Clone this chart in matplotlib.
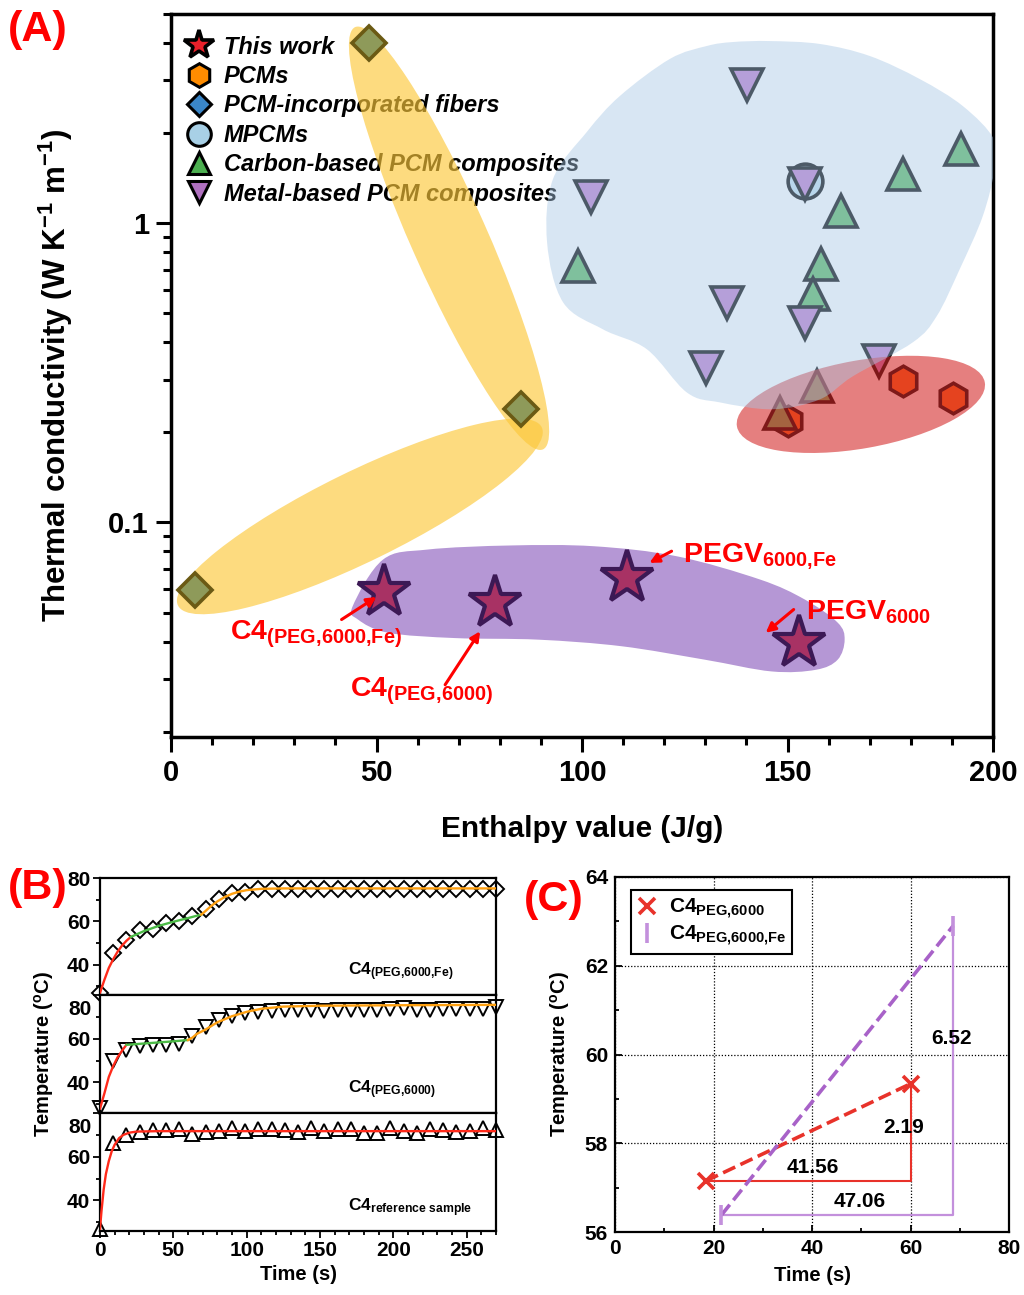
"""
plot.py - Thermal conductivity vs. enthalpy map (A), heating curves (B)
and phase-change slope comparison (C).
"""
import numpy as np
import matplotlib
matplotlib.use('Agg')
import matplotlib.pyplot as plt
from matplotlib import transforms as mtransforms
from matplotlib.lines import Line2D
from matplotlib.patches import Ellipse, PathPatch
from matplotlib.path import Path
from matplotlib.font_manager import FontProperties
from matplotlib.ticker import MultipleLocator, LogLocator, NullFormatter

W, H = 1024, 1295

plt.rcParams.update({
    'font.family': ['Liberation Sans', 'DejaVu Sans'],
    'font.weight': 'bold',
    'axes.labelweight': 'bold',
    'mathtext.fontset': 'custom',
    'mathtext.rm': 'Liberation Sans:bold',
    'mathtext.bf': 'Liberation Sans:bold',
    'mathtext.it': 'Liberation Sans:bold:italic',
    'mathtext.sf': 'Liberation Sans:bold',
    'mathtext.default': 'rm',
})

# ── Panel A data: enthalpy [J/g] vs thermal conductivity [W/(K m)] ──────────
work_H = [51.8, 78.9, 110.9, 152.8]
work_k = [0.0586, 0.0539, 0.0653, 0.0397]
pcm_H = [150.2, 178.1, 190.3]
pcm_k = [0.218, 0.297, 0.261]
fiber_H = [5.8, 48.2, 85.1]
fiber_k = [0.0594, 4.00, 0.239]
mpcm_H = [154.2]
mpcm_k = [1.385]
carbon_H = [99.1, 158.1, 156.2, 163.1, 178.1, 192.2, 157.1, 148.1]
carbon_k = [0.720, 0.729, 0.579, 1.099, 1.458, 1.768, 0.286, 0.233]
metal_H = [140.2, 102.1, 135.2, 154.2, 130.1, 172.2, 154.2]
metal_k = [2.90, 1.228, 0.540, 0.463, 0.327, 0.346, 1.35]

# highlight regions (enthalpy, conductivity)
yellow_tall = [(44.8, 4.52), (90.5, 0.1755)]
yellow_low = [(1.7, 0.0528), (90.2, 0.208)]
red_band = [(137.7, 0.2094), (198.0, 0.294)]
blue_H = [136.7, 145.7, 157.9, 170.0, 182.2, 192.7, 200.2, 200.4, 197.5, 191.9,
          186.3, 180.5, 165.9, 157.9, 146.4, 133.5, 125.5, 115.8, 105.1, 95.4,
          91.5, 92.9, 101.2, 109.2, 121.4, 130.4]
blue_k = [4.03, 4.06, 3.97, 3.62, 3.03, 2.46, 1.91, 1.52, 1.055, 0.702,
          0.489, 0.400, 0.308, 0.258, 0.239, 0.252, 0.272, 0.379, 0.442, 0.544,
          0.864, 1.40, 2.02, 2.66, 3.54, 3.91]
purple_H = [44.2, 51.6, 62.4, 82.6, 102.9, 123.1, 143.3, 154.2, 162.2, 163.9,
            162.2, 156.9, 146.1, 129.9, 109.6, 89.4, 69.1, 52.9, 45.5]
purple_k = [0.0525, 0.0752, 0.0812, 0.0838, 0.0833, 0.0771, 0.0645, 0.0553,
            0.0463, 0.0406, 0.0348, 0.0322, 0.0318, 0.0348, 0.0386, 0.0406,
            0.0411, 0.0428, 0.0474]

# ── Panel B data: temperature [°C] vs time [s] ──────────────────────────────
time_s = [0, 9, 18, 27, 36, 45, 54, 63, 72, 81, 90, 99, 108, 117, 126, 135,
          144, 153, 162, 171, 180, 189, 198, 207, 216, 225, 234, 243, 252,
          261, 270]
T_fe = [26.8, 45.4, 51.2, 55.8, 56.3, 59.2, 60.0, 62.5, 65.9, 70.1, 72.9,
        73.6, 74.7, 75.0, 75.1, 75.1, 75.1, 75.1, 75.1, 75.1, 75.1, 75.1,
        75.1, 75.1, 75.1, 75.1, 75.1, 75.1, 75.1, 75.1, 75.1]
T_peg = [28.1, 49.9, 54.8, 56.6, 57.0, 57.3, 57.8, 61.2, 65.5, 68.4, 70.4,
         71.6, 72.3, 72.6, 73.0, 73.0, 73.0, 72.8, 73.0, 73.0, 73.3, 73.3,
         73.8, 74.0, 73.3, 73.3, 73.5, 73.5, 73.5, 73.8, 74.5]
T_ref = [26.8, 66.3, 69.9, 71.2, 72.3, 72.3, 72.6, 70.2, 71.5, 71.8, 73.1,
         71.8, 72.6, 72.6, 72.0, 71.2, 73.1, 71.8, 72.6, 72.6, 71.0, 71.0,
         73.1, 71.8, 71.0, 72.6, 72.0, 71.2, 71.9, 73.1, 72.3]

# fitted segments: heating (red), melting (green), post-melting (orange)
fe_heat_t = [0, 3, 6, 9, 12, 15, 18, 21]
fe_heat_T = [27.0, 33.0, 38.5, 42.5, 46.0, 48.8, 51.0, 52.8]
fe_melt_t = [21, 30, 40, 50, 60, 69]
fe_melt_T = [52.8, 55.5, 57.9, 59.8, 61.5, 63.1]
fe_post_t = [69, 72, 76, 80, 85, 90, 95, 100, 110, 125, 270]
fe_post_T = [63.1, 64.8, 67.2, 69.2, 71.2, 72.7, 73.7, 74.4, 75.0, 75.2, 75.2]

peg_heat_t = [0, 3, 6, 9, 12, 15, 18]
peg_heat_T = [28.0, 35.0, 42.5, 47.5, 51.5, 54.5, 57.2]
peg_melt_t = [18, 30, 40, 50, 60]
peg_melt_T = [57.2, 57.8, 58.3, 58.8, 59.4]
peg_post_t = [60, 63, 66, 72, 80, 90, 100, 110, 125, 150, 200, 270]
peg_post_T = [59.4, 60.5, 62.2, 64.2, 67.5, 70.3, 72.3, 73.7, 74.7, 75.1,
              75.3, 75.5]

ref_heat_t = [0, 1, 2.5, 4, 6, 8, 10, 13, 16, 20, 25, 40, 270]
ref_heat_T = [27.0, 35.0, 45.0, 52.0, 58.0, 62.5, 65.5, 68.5, 70.0, 71.0,
              71.5, 71.7, 71.7]

# ── Panel C data: melting onset / end points ───────────────────────────────
peg_pts_t = [18.44, 60.00]
peg_pts_T = [57.15, 59.34]
fe_pts_t = [21.60, 68.66]
fe_pts_T = [56.38, 62.90]

RED = '#ff0000'


def px_axes(fig, left, top, right, bottom):
    """Axes placed by pixel edges of the 1024x1295 canvas."""
    return fig.add_axes([left / W, 1 - bottom / H,
                         (right - left) / W, (bottom - top) / H])


def capsule(ax, p0, p1, width, **kw):
    """Ellipse whose long axis runs between two data points."""
    a, b = ax.transData.transform([p0, p1])
    d = b - a
    e = Ellipse((a + b) / 2, np.hypot(*d), width,
                angle=np.degrees(np.arctan2(d[1], d[0])),
                transform=mtransforms.IdentityTransform(), lw=0, **kw)
    ax.add_patch(e)


def smooth_region(ax, xs, ys, **kw):
    """Closed smooth outline (Catmull-Rom -> cubic Bezier) through data points."""
    pts = ax.transData.transform(np.column_stack([xs, ys]))
    n = len(pts)
    verts = [pts[0]]
    codes = [Path.MOVETO]
    for i in range(n):
        p0, p1, p2, p3 = pts[i - 1], pts[i], pts[(i + 1) % n], pts[(i + 2) % n]
        verts += [p1 + (p2 - p0) / 6.0, p2 - (p3 - p1) / 6.0, p2]
        codes += [Path.CURVE4] * 3
    verts.append(pts[0])
    codes.append(Path.CLOSEPOLY)
    ax.add_patch(PathPatch(Path(verts, codes), lw=0,
                           transform=mtransforms.IdentityTransform(), **kw))


fig = plt.figure(figsize=(W / 100, H / 100), dpi=100)

# ── (A) ─────────────────────────────────────────────────────────────────────
axA = px_axes(fig, 171, 14, 993, 737)
axA.set_yscale('log')
axA.set_xlim(0, 200)
axA.set_ylim(0.0192, 5.0)

capsule(axA, *yellow_tall, 76, fc='#fcc83a', alpha=0.65, zorder=2)
capsule(axA, *yellow_low, 90, fc='#fcc83a', alpha=0.65, zorder=2)
smooth_region(axA, purple_H, purple_k, fc='#8e5fbf', alpha=0.65, zorder=2)

axA.plot(fiber_H, fiber_k, 'D', ms=17, mfc='#8e9a5a', mec='#6b5a14',
         mew=2.6, zorder=3)
axA.plot(pcm_H, pcm_k, 'h', ms=22, mfc='#ff6a10', mec='black',
         mew=2.6, zorder=3)
axA.plot(mpcm_H, mpcm_k, 'o', ms=25, mfc='#c6e3f0', mec='black',
         mew=2.6, zorder=3)
axA.plot(carbon_H, carbon_k, '^', ms=23, mfc='#5dbb63', mec='black',
         mew=2.6, zorder=3)
axA.plot(metal_H, metal_k, 'v', ms=23, mfc='#c07fd0', mec='black',
         mew=2.6, zorder=3)
axA.plot(work_H, work_k, '*', ms=40, mfc='#a83264', mec='#3c1955',
         mew=3.0, zorder=3)

# red band and blue cloud are laid over the markers they group
capsule(axA, *red_band, 88, fc='#d42a2a', alpha=0.6, zorder=3.5)
smooth_region(axA, blue_H, blue_k, fc='#a9c8e6', alpha=0.45, zorder=4)

handles = [
    Line2D([], [], ls='none', marker='*', ms=22, mfc='#e8202a', mec='black', mew=2.6),
    Line2D([], [], ls='none', marker='h', ms=17, mfc='#ff8c00', mec='black', mew=2.2),
    Line2D([], [], ls='none', marker='D', ms=12, mfc='#3a86c8', mec='black', mew=2.2),
    Line2D([], [], ls='none', marker='o', ms=17, mfc='#a8d0e6', mec='black', mew=2.2),
    Line2D([], [], ls='none', marker='^', ms=16, mfc='#4caf50', mec='black', mew=2.2),
    Line2D([], [], ls='none', marker='v', ms=16, mfc='#b070c0', mec='black', mew=2.2),
]
labels = ['This work', 'PCMs', 'PCM-incorporated fibers', 'MPCMs',
          'Carbon-based PCM composites', 'Metal-based PCM composites']
leg = axA.legend(handles, labels, loc='upper left', bbox_to_anchor=(0.018, 0.97),
                 frameon=False, borderpad=0, borderaxespad=0, handlelength=1.1,
                 handletextpad=0.5, labelspacing=0.27,
                 prop=FontProperties(family='Liberation Sans', weight='bold',
                                     style='italic', size=17))
leg.set_zorder(1)

# labels and arrows for this work
ann_kw = dict(color=RED, fontsize=20.5, fontweight='bold', ha='left',
              va='baseline', zorder=6)
axA.text(14.3, 0.0406, r'C4$_{(PEG{,}6000{,}Fe)}$', **ann_kw)
axA.text(43.5, 0.0262, r'C4$_{(PEG{,}6000)}$', **ann_kw)
axA.text(124.5, 0.0741, r'PEGV$_{6000{,}Fe}$', **ann_kw)
axA.text(154.5, 0.0474, r'PEGV$_{6000}$', **ann_kw)
arrows = [((41.5, 0.0474), (50.0, 0.0564)),
          ((66.7, 0.0287), (75.2, 0.0433)),
          ((121.8, 0.0802), (116.4, 0.0733)),
          ((151.5, 0.0512), (144.7, 0.0428))]
for tail, head in arrows:
    axA.annotate('', xy=head, xytext=tail, zorder=6,
                 arrowprops=dict(arrowstyle='-|>', color=RED, lw=2.2,
                                 mutation_scale=14, shrinkA=0, shrinkB=0))

axA.set_yticks([0.1, 1])
axA.set_yticklabels(['0.1', '1'])
axA.yaxis.set_minor_locator(LogLocator(base=10, subs=np.arange(2, 10)))
axA.yaxis.set_minor_formatter(NullFormatter())
axA.xaxis.set_major_locator(MultipleLocator(50))
axA.xaxis.set_minor_locator(MultipleLocator(10))
axA.tick_params(which='major', direction='out', length=11, width=2.2,
                labelsize=21, pad=5, top=False, right=False)
axA.tick_params(which='minor', direction='out', length=6, width=2.2,
                top=False, right=False)
for s in axA.spines.values():
    s.set_linewidth(2.5)
axA.set_xlabel('Enthalpy value (J/g)', fontsize=21.5, labelpad=20)
axA.set_ylabel(r'Thermal conductivity (W K$^{-1}$ m$^{-1}$)', fontsize=22.5,
               labelpad=24)

# ── (B) ─────────────────────────────────────────────────────────────────────
rows = [
    (878, 995, T_fe, 'D', r'C4$_{(PEG{,}6000{,}Fe)}$',
     [(fe_heat_t, fe_heat_T, '#ff2a1a'), (fe_melt_t, fe_melt_T, '#4cbb47'),
      (fe_post_t, fe_post_T, '#ffa010')]),
    (995, 1113, T_peg, 'v', r'C4$_{(PEG{,}6000)}$',
     [(peg_heat_t, peg_heat_T, '#ff2a1a'), (peg_melt_t, peg_melt_T, '#4cbb47'),
      (peg_post_t, peg_post_T, '#ffa010')]),
    (1113, 1231, T_ref, '^', r'C4$_{reference\ sample}$',
     [(ref_heat_t, ref_heat_T, '#ff2a1a')]),
]
axesB = []
for i, (top, bottom, temps, mk, name, fits) in enumerate(rows):
    ax = px_axes(fig, 100, top, 496, bottom)
    axesB.append(ax)
    ax.plot(time_s, temps, mk, ms=8.5 if mk == 'D' else 9.5, mfc='none',
            mec='black', mew=1.4, clip_on=False, zorder=3)
    for ft, fT, c in fits:
        ax.plot(ft, fT, '-', color=c, lw=1.7, zorder=4)
    ax.set_xlim(0, 270)
    ax.set_ylim(26, 80)
    ax.set_yticks([40, 60, 80])
    ax.yaxis.set_minor_locator(MultipleLocator(10))
    ax.xaxis.set_major_locator(MultipleLocator(50))
    ax.xaxis.set_minor_locator(MultipleLocator(10))
    ax.tick_params(which='major', direction='out', length=5, width=1.3,
                   labelsize=15, pad=2)
    ax.tick_params(which='minor', direction='out', length=3, width=1.3)
    for s in ax.spines.values():
        s.set_linewidth(1.6)
    if i > 0:
        ax.set_yticklabels(['40', '60', ''])
        ax.text(-0.022, 0.955, '80', transform=ax.transAxes, ha='right',
                va='top', fontsize=15)
    if i < 2:
        ax.tick_params(axis='x', which='both', labelbottom=False)
    ax.text(0.625, 0.17, name, transform=ax.transAxes, fontsize=12.5,
            ha='left', va='baseline')

axesB[1].set_ylabel(r'Temperature ($^{o}$C)', fontsize=14.5, labelpad=8)
axesB[2].set_xlabel('Time (s)', fontsize=14.5, labelpad=4)

# ── (C) ─────────────────────────────────────────────────────────────────────
axC = px_axes(fig, 615, 877, 1009, 1232)
c_red, c_pur, c_pur_l = '#e8322a', '#a862c8', '#c390dc'

axC.plot(peg_pts_t, peg_pts_T, '--', color=c_red, lw=2.6, zorder=3)
axC.plot(fe_pts_t, fe_pts_T, '--', color=c_pur, lw=2.6, zorder=3)
axC.plot([peg_pts_t[0], peg_pts_t[1], peg_pts_t[1]],
         [peg_pts_T[0], peg_pts_T[0], peg_pts_T[1]], '-', color=c_red,
         lw=1.5, zorder=2)
axC.plot([fe_pts_t[0], fe_pts_t[1], fe_pts_t[1]],
         [fe_pts_T[0], fe_pts_T[0], fe_pts_T[1]], '-', color=c_pur_l,
         lw=1.6, zorder=2)
axC.plot(peg_pts_t, peg_pts_T, 'x', ms=11, mew=2.6, color=c_red, zorder=4,
         label=r'C4$_{PEG{,}6000}$')
axC.plot(fe_pts_t, fe_pts_T, '|', ms=14, mew=2.6, color=c_pur_l, zorder=4,
         label=r'C4$_{PEG{,}6000{,}Fe}$')

dt_peg = peg_pts_t[1] - peg_pts_t[0]
dT_peg = peg_pts_T[1] - peg_pts_T[0]
dt_fe = fe_pts_t[1] - fe_pts_t[0]
dT_fe = fe_pts_T[1] - fe_pts_T[0]
lab_kw = dict(fontsize=15, ha='center', va='center', zorder=5)
axC.text(peg_pts_t[0] + dt_peg / 2 + 1.0, peg_pts_T[0] + 0.3,
         '{:.2f}'.format(dt_peg), **lab_kw)
axC.text(peg_pts_t[1] - 1.4, peg_pts_T[0] + dT_peg / 2 + 0.1,
         '{:.2f}'.format(dT_peg), **lab_kw)
axC.text(fe_pts_t[0] + dt_fe / 2 + 4.6, fe_pts_T[0] + 0.31,
         '{:.2f}'.format(dt_fe), **lab_kw)
axC.text(fe_pts_t[1] - 0.3, fe_pts_T[0] + dT_fe / 2 + 0.72,
         '{:.2f}'.format(dT_fe), **lab_kw)

axC.set_xlim(0, 80)
axC.set_ylim(56, 64)
axC.xaxis.set_major_locator(MultipleLocator(20))
axC.xaxis.set_minor_locator(MultipleLocator(10))
axC.yaxis.set_major_locator(MultipleLocator(2))
axC.yaxis.set_minor_locator(MultipleLocator(1))
axC.grid(True, which='major', ls=(0, (1, 1.5)), color='black', lw=0.9)
axC.tick_params(which='major', direction='in', length=5, width=1.3,
                labelsize=15, pad=5)
axC.tick_params(which='minor', direction='in', length=3, width=1.3)
for s in axC.spines.values():
    s.set_linewidth(1.6)
axC.set_xlabel('Time (s)', fontsize=14.5, labelpad=6)
axC.set_ylabel(r'Temperature ($^{o}$C)', fontsize=14.5, labelpad=9)
legC = axC.legend(loc='upper left', bbox_to_anchor=(0.015, 0.992), fontsize=15,
                  fancybox=False, edgecolor='black', framealpha=1,
                  handlelength=0.9, handletextpad=0.6, borderpad=0.3,
                  labelspacing=0.15)
legC.get_frame().set_linewidth(1.5)

# panel letters
for x, y, s in [(8, 30, '(A)'), (8, 888, '(B)'), (524, 900, '(C)')]:
    fig.text(x / W, 1 - y / H, s, color=RED, fontsize=31, fontweight='bold',
             ha='left', va='center')

fig.savefig('out.png', dpi=100)
